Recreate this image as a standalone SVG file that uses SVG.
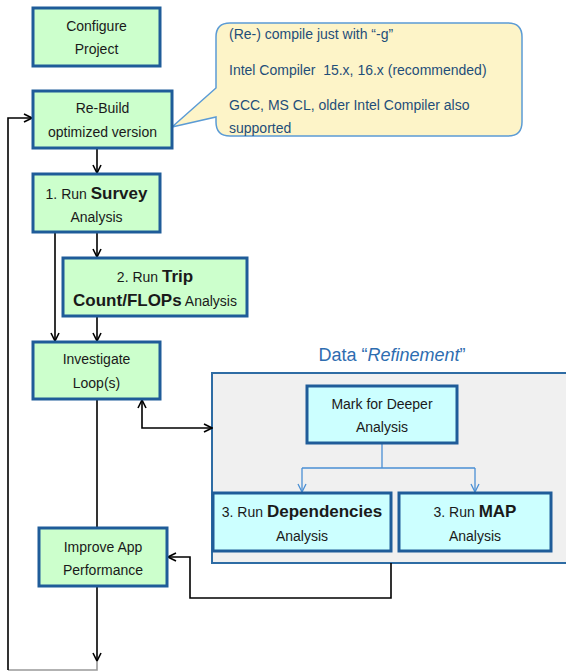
<svg xmlns="http://www.w3.org/2000/svg" width="566" height="671" viewBox="0 0 566 671">
<style>
text{font-family:"Liberation Sans",Arial,sans-serif;font-size:14px;fill:#1a1a1a;text-anchor:middle}
.g{fill:#ccffcc;stroke:#1f5c99;stroke-width:3}
.c{fill:#ccffff;stroke:#1f5c99;stroke-width:3}
.b{font-weight:bold;font-size:17px}
.k{fill:none;stroke:#000;stroke-width:1.6}
.bl{fill:none;stroke:#4a8fd4;stroke-width:1.3}
.call text{fill:#1f4e79;text-anchor:start}
</style>
<defs>
<marker id="a" viewBox="0 0 10 10" refX="9" refY="5" markerWidth="10" markerHeight="10" markerUnits="userSpaceOnUse" orient="auto-start-reverse"><path d="M1,1 L9,5 L1,9" fill="none" stroke="#000" stroke-width="1.6"/></marker>
<marker id="ab" viewBox="0 0 10 10" refX="9" refY="5" markerWidth="10" markerHeight="10" markerUnits="userSpaceOnUse" orient="auto"><path d="M1,1 L9,5 L1,9" fill="none" stroke="#4a8fd4" stroke-width="1.3"/></marker>
</defs>
<g id="refinement">
<rect x="212" y="373" width="360" height="190" fill="#f0f0f0" stroke="#2e6ca4" stroke-width="2"/>
<text x="392" y="361" style="font-size:18px;fill:#2e6db0">Data “<tspan font-style="italic">Refinement</tspan>”</text>
</g>
<g id="connectors">
<path class="k" d="M97,148 L97,173" marker-end="url(#a)"/>
<path class="k" d="M97,232 L97,257" marker-end="url(#a)"/>
<path class="k" d="M55,232 L55,341" marker-end="url(#a)"/>
<path class="k" d="M97,316 L97,341" marker-end="url(#a)"/>
<path class="k" d="M142,400 L142,428 L212,428" marker-start="url(#a)" marker-end="url(#a)"/>
<path class="k" d="M97,399 L97,528"/>
<path class="k" d="M391,563 L391,598 L190,598 L190,557 L168,557" marker-end="url(#a)"/>
<path class="k" d="M97,586 L97,661" marker-end="url(#a)"/>
<path d="M97,661 L97,670 L8,670" fill="none" stroke="#999" stroke-width="1.6"/>
<path class="k" d="M8,670 L8,118 L32,118" marker-end="url(#a)"/>
<path class="bl" d="M382,443 L382,468 M302,468 L475,468"/>
<path class="bl" d="M302,468 L302,492" marker-end="url(#ab)"/>
<path class="bl" d="M475,468 L475,492" marker-end="url(#ab)"/>
</g>
<g id="callout" class="call">
<path d="M230,23 H508 Q522,23 522,37 V122 Q522,136 508,136 H230 Q216,136 216,122 V117 L172,127 L216,88 V37 Q216,23 230,23 Z" fill="#fdf4c8" stroke="#5b9bd5" stroke-width="1.5"/>
<text x="229" y="39">(Re-) compile just with “-g”</text>
<text x="229" y="75">Intel Compiler&#160; 15.x, 16.x (recommended)</text>
<text x="229" y="110">GCC, MS CL, older Intel Compiler also</text>
<text x="229" y="133">supported</text>
</g>
<g id="configure"><rect class="g" x="33" y="8" width="127" height="58"/><text x="96.5" y="31">Configure</text><text x="96.5" y="54">Project</text></g>
<g id="rebuild"><rect class="g" x="33" y="91" width="139" height="57"/><text x="102.5" y="113">Re-Build</text><text x="102.5" y="137">optimized version</text></g>
<g id="survey"><rect class="g" x="33" y="174" width="127" height="58"/><text x="96.5" y="199">1. Run <tspan class="b">Survey</tspan></text><text x="96.5" y="222">Analysis</text></g>
<g id="trip"><rect class="g" x="63" y="258" width="184" height="58"/><text x="155" y="282">2. Run <tspan class="b">Trip</tspan></text><text x="155" y="306"><tspan class="b">Count/FLOPs</tspan> Analysis</text></g>
<g id="investigate"><rect class="g" x="33" y="342" width="127" height="57"/><text x="96.5" y="364">Investigate</text><text x="96.5" y="388">Loop(s)</text></g>
<g id="mark"><rect class="c" x="307" y="386" width="150" height="57"/><text x="382" y="409">Mark for Deeper</text><text x="382" y="432">Analysis</text></g>
<g id="dependencies"><rect class="c" x="213" y="493" width="178" height="58"/><text x="302" y="517">3. Run <tspan class="b">Dependencies</tspan></text><text x="302" y="541">Analysis</text></g>
<g id="map"><rect class="c" x="399" y="493" width="152" height="58"/><text x="475" y="517">3. Run <tspan class="b">MAP</tspan></text><text x="475" y="541">Analysis</text></g>
<g id="improve"><rect class="g" x="39" y="528" width="128" height="58"/><text x="103" y="552">Improve App</text><text x="103" y="575">Performance</text></g>
</svg>
